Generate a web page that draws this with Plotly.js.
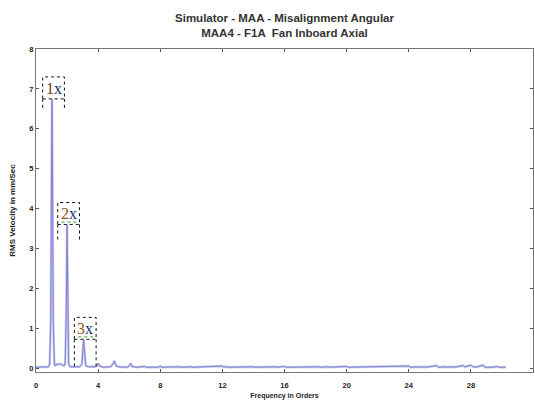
<!DOCTYPE html>
<html>
<head>
<meta charset="utf-8">
<script src="https://cdn.plot.ly/plotly-3.0.1.min.js"></script>
<style>html,body{margin:0;padding:0;background:#fff;}#chart{width:535px;height:407px;}</style>
</head>
<body>
<div id="chart"></div>
<script>
// Spectrum (frequency in orders vs RMS velocity mm/s)
const freq = [0.0,0.5,0.8,0.88,0.95,1.0,1.03,1.06,1.11,1.18,1.25,1.3,1.4,1.55,1.65,1.72,1.8,1.88,1.95,2.0,2.05,2.1,2.2,2.5,2.8,2.95,3.02,3.07,3.12,3.2,3.4,3.8,3.95,4.02,4.1,4.3,4.8,4.95,5.05,5.15,5.3,5.9,6.05,6.1,6.18,6.5,7.0,7.1,7.5,7.9,8.0,8.1,9.2,9.3,10.0,10.1,12.0,12.1,12.2,12.3,14.0,14.1,15.4,15.5,16.0,16.1,18.2,18.3,18.8,18.9,20.0,20.1,24.0,24.1,24.5,24.6,25.0,25.1,25.8,25.9,26.4,26.5,26.8,26.9,27.5,27.6,28.0,28.1,28.3,28.8,28.9,29.3,29.4,29.7,29.8,30.25];
const amp  = [0.02,0.02,0.03,0.1,1.2,5.0,6.75,5.0,1.2,0.1,0.05,0.09,0.1,0.1,0.09,0.08,0.05,0.1,1.5,3.6,1.5,0.1,0.03,0.03,0.03,0.08,0.45,0.72,0.45,0.06,0.03,0.03,0.06,0.12,0.05,0.02,0.03,0.1,0.18,0.06,0.03,0.02,0.08,0.12,0.04,0.02,0.04,0.02,0.02,0.02,0.05,0.02,0.03,0.02,0.03,0.02,0.05,0.02,0.04,0.02,0.03,0.02,0.03,0.02,0.04,0.02,0.03,0.02,0.03,0.02,0.04,0.02,0.05,0.02,0.03,0.02,0.03,0.02,0.06,0.02,0.03,0.02,0.03,0.02,0.06,0.03,0.07,0.04,0.02,0.07,0.02,0.02,0.02,0.04,0.02,0.02];

// Order peaks with labels
const peakLabels = ['1x','2x','3x'];
const peakFreq   = [1.03, 2.0, 3.07];
const peakAmp    = [6.75, 3.6, 0.72];
const peakExt    = [0.3, 0.45, 0.72];

const xTicks = [0,4,8,12,16,20,24,28,32];
const yTicks = [0,1,2,3,4,5,6,7,8];

const traces = [
  {x: freq, y: amp, type:'scatter', mode:'lines', line:{color:'#c6c6ee', width:2.4}, hoverinfo:'skip'},
  {x: freq, y: amp, type:'scatter', mode:'lines', line:{color:'#8282d2', width:1}}
];

const shapes = [];
const annotations = [];
const labelColors = [['#6b3d1c','#1f2a66'],['#8a5a20','#203070'],['#8a5a20','#203070']];
peakLabels.forEach((lab, i) => {
  const px = peakFreq[i], py = peakAmp[i];
  const x0 = px - 0.6, x1 = px + 0.8;
  shapes.push({type:'rect', xref:'x', yref:'y', x0:x0, x1:x1, y0:py, y1:py+0.55,
    line:{color:'#111', width:1, dash:'dot'}, fillcolor:'rgba(255,255,255,0.9)'});
  shapes.push({type:'line', xref:'x', yref:'y', x0:x0, x1:x0, y0:py, y1:py-peakExt[i], line:{color:'#111', width:1, dash:'dot'}});
  shapes.push({type:'line', xref:'x', yref:'y', x0:x1, x1:x1, y0:py, y1:py-peakExt[i], line:{color:'#111', width:1, dash:'dot'}});
  if (i > 0) {
    shapes.push({type:'line', xref:'x', yref:'y', x0:px-0.35, x1:px+0.6, y0:py+0.06, y1:py+0.06, line:{color:'#2a9a2a', width:1, dash:'dot'}});
  }
  const c = labelColors[i];
  annotations.push({xref:'x', yref:'y', x:(x0+x1)/2, y:py+0.27, showarrow:false,
    text:'<span style="color:'+c[0]+'">'+lab.charAt(0)+'</span><span style="color:'+c[1]+'">'+lab.charAt(1)+'</span>',
    font:{family:'Liberation Serif, Times New Roman, serif', size:16}, xanchor:'center', yanchor:'middle'});
});

const tickFont = {family:'Liberation Sans, Arial, sans-serif', size:7.5, color:'#222', weight:'bold'};

const layout = {
  width:535, height:407,
  margin:{l:36, r:2, t:49, b:35},
  paper_bgcolor:'#fff', plot_bgcolor:'#fff',
  showlegend:false,
  title:{text:'Simulator - MAA - Misalignment Angular<br>MAA4 - F1A  Fan Inboard Axial',
    font:{family:'Liberation Sans, Arial, sans-serif', size:11.5, color:'#333', weight:'bold'},
    x:0.5, xanchor:'center', xref:'paper', y:0.946, yref:'container', yanchor:'top'},
  xaxis:{range:[0,32], tickvals:xTicks, ticktext:xTicks.map(String), ticks:'inside', ticklen:3, tickcolor:'#555',
    showline:true, linecolor:'#777', linewidth:1, mirror:'ticks', showgrid:false, zeroline:false,
    tickfont:tickFont, ticklabelstandoff:6,
    title:{text:'Frequency in Orders', font:{family:'Liberation Sans, Arial, sans-serif', size:7, color:'#222', weight:'bold'}, standoff:4}},
  yaxis:{range:[-0.1,8], tickvals:yTicks, ticktext:yTicks.map(String), ticks:'inside', ticklen:3, tickcolor:'#555',
    showline:true, linecolor:'#777', linewidth:1, mirror:'ticks', showgrid:false, zeroline:false,
    tickfont:tickFont,
    title:{text:'RMS Velocity in mm/Sec', font:{family:'Liberation Sans, Arial, sans-serif', size:8, color:'#222', weight:'bold'}, standoff:12}},
  shapes: shapes,
  annotations: annotations
};

Plotly.newPlot('chart', traces, layout, {displayModeBar:false, staticPlot:true});
</script>
</body>
</html>
